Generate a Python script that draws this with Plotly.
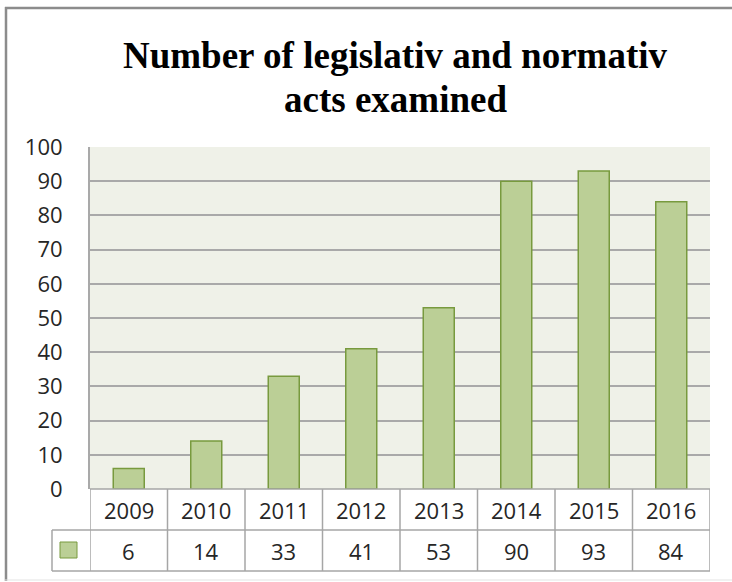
import plotly.graph_objects as go

# Data
years = ["2009", "2010", "2011", "2012", "2013", "2014", "2015", "2016"]
acts = [6, 14, 33, 41, 53, 90, 93, 84]
y_ticks = [0, 10, 20, 30, 40, 50, 60, 70, 80, 90, 100]
title_lines = ["Number of legislativ and normativ", "acts examined"]

W, H = 732, 582
BAR_FILL = "#BBCF96"
BAR_LINE = "#789A3E"
GRID = "#A9A9A9"
TABLE_LINE = "#A6A6A6"
TEXT = "#262626"
FONT = "Open Sans"

# Pixel layout of the plot area / data table
px_left, px_right = 90, 710
px_top, px_bottom = 147, 489
row1_bottom, row2_bottom = 530, 571
key_left = 52


def py(y):
    return 1 - y / H


def pxp(x):
    return x / W


fig = go.Figure()
fig.add_trace(go.Bar(
    x=list(range(len(years))), y=acts, width=0.4,
    marker=dict(color=BAR_FILL, line=dict(color=BAR_LINE, width=1.5)),
    showlegend=False, hovertext=years, hoverinfo="text+y",
))

shapes = []
# outer chart frame (left, top, bottom)
shapes.append(dict(type="line", xref="paper", yref="paper", x0=pxp(6), x1=pxp(6),
                   y0=py(7), y1=py(581), line=dict(color="#8C8C8C", width=2.5)))
shapes.append(dict(type="line", xref="paper", yref="paper", x0=pxp(5), x1=1,
                   y0=py(8), y1=py(8), line=dict(color="#8C8C8C", width=2.5)))
shapes.append(dict(type="line", xref="paper", yref="paper", x0=pxp(5), x1=1,
                   y0=py(580), y1=py(580), line=dict(color="#E3E3E3", width=1)))

# data table: horizontal rules
for yy, x0 in [(px_bottom, px_left), (row1_bottom, key_left), (row2_bottom, key_left)]:
    shapes.append(dict(type="line", xref="paper", yref="paper", x0=pxp(x0), x1=pxp(px_right),
                       y0=py(yy), y1=py(yy), line=dict(color=TABLE_LINE, width=1.5)))
# data table: vertical rules at category boundaries
for i in range(len(years) + 1):
    shapes.append(dict(type="line", xref="x", yref="paper", x0=i - 0.5, x1=i - 0.5,
                       y0=py(px_bottom), y1=py(row2_bottom),
                       line=dict(color=TABLE_LINE, width=1.5)))
# legend key cell
shapes.append(dict(type="line", xref="paper", yref="paper", x0=pxp(key_left), x1=pxp(key_left),
                   y0=py(row1_bottom), y1=py(row2_bottom), line=dict(color=TABLE_LINE, width=1.5)))
shapes.append(dict(type="rect", xref="paper", yref="paper", x0=pxp(60), x1=pxp(77),
                   y0=py(558), y1=py(542), fillcolor=BAR_FILL,
                   line=dict(color=BAR_LINE, width=1)))

annotations = []
# chart title, one annotation per line
for line, yc in zip(title_lines, [55, 99]):
    annotations.append(dict(x=pxp(395), xref="paper", yref="paper", y=py(yc),
                            text="<b>%s</b>" % line, showarrow=False,
                            xanchor="center", yanchor="middle",
                            font=dict(family="Liberation Serif", size=37, color="#000000")))
# data table cells
for i, (yr, v) in enumerate(zip(years, acts)):
    annotations.append(dict(x=i, xref="x", yref="paper", y=py(510),
                            text=yr, showarrow=False, yanchor="middle",
                            font=dict(family=FONT, size=22, color=TEXT)))
    annotations.append(dict(x=i, xref="x", yref="paper", y=py(551),
                            text=str(v), showarrow=False, yanchor="middle",
                            font=dict(family=FONT, size=22, color=TEXT)))

fig.update_layout(
    width=W, height=H,
    margin=dict(l=0, r=0, t=0, b=0, autoexpand=False),
    paper_bgcolor="white",
    plot_bgcolor="#EFF1E8",
    xaxis=dict(
        domain=[pxp(px_left), pxp(px_right)],
        range=[-0.5, len(years) - 0.5],
        showticklabels=False, showgrid=False, zeroline=False,
        showline=False, fixedrange=True, automargin=False,
    ),
    yaxis=dict(
        domain=[py(px_bottom), py(px_top)],
        range=[0, 100], tickvals=y_ticks,
        showgrid=True, gridcolor=GRID, gridwidth=2,
        zeroline=False, showline=True, linecolor=GRID, linewidth=2,
        ticks="", ticklabelstandoff=21, automargin=False,
        tickfont=dict(family=FONT, size=22, color=TEXT),
        fixedrange=True,
    ),
    shapes=shapes,
    annotations=annotations,
)

fig.write_html("out.html")
